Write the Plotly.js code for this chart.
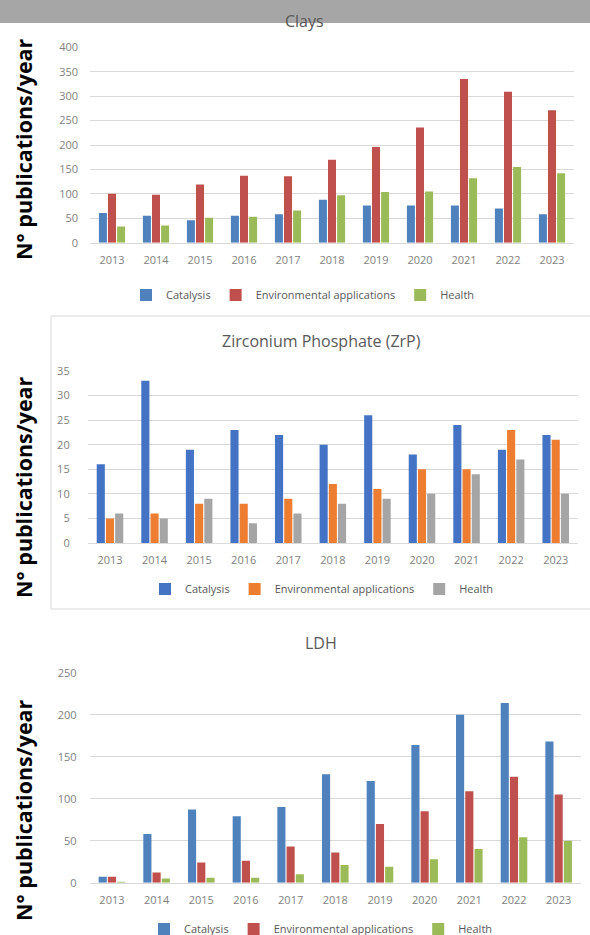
<!DOCTYPE html>
<html><head><meta charset="utf-8">
<script src="https://cdn.plot.ly/plotly-3.0.1.min.js"></script>
<style>html,body{margin:0;padding:0;background:#fff;overflow:hidden}#chart{width:590px;height:935px}</style>
</head><body><div id="chart"></div>
<script>
// ---- data ----
const years = ['2013','2014','2015','2016','2017','2018','2019','2020','2021','2022','2023'];
const seriesNames = ['Catalysis','Environmental applications','Health'];
const panelTitles = ['Clays','Zirconium Phosphate (ZrP)','LDH'];
const yAxisTitle = 'N° publications/year';

const claysCatalysis = [61, 55, 46, 55, 58, 88, 76, 76, 76, 70, 58];
const claysEnvironmental = [100, 98, 119, 137, 136, 170, 196, 236, 335, 309, 271];
const claysHealth = [33, 35, 51, 53, 66, 97, 104, 105, 132, 155, 142];

const zrpCatalysis = [16, 33, 19, 23, 22, 20, 26, 18, 24, 19, 22];
const zrpEnvironmental = [5, 6, 8, 8, 9, 12, 11, 15, 15, 23, 21];
const zrpHealth = [6, 5, 9, 4, 6, 8, 9, 10, 14, 17, 10];

const ldhCatalysis = [7, 58, 87, 79, 90, 129, 121, 164, 200, 214, 168];
const ldhEnvironmental = [7, 12, 24, 26, 43, 36, 70, 85, 109, 126, 105];
const ldhHealth = [1, 5, 6, 6, 10, 21, 19, 28, 40, 54, 50];

// ---- styles ----
const W = 590, H = 935;
const px = v => v / W;
const py = v => 1 - v / H;
const FONT = 'Open Sans, Noto Sans, sans-serif';
const colorsA = ['#4F81BD', '#C0504D', '#9BBB59'];
const colorsB = ['#4472C4', '#ED7D31', '#A5A5A5'];

const panels = [
  {data: [claysCatalysis, claysEnvironmental, claysHealth], colors: colorsA, xa: 'x', ya: 'y', lg: 'legend'},
  {data: [zrpCatalysis, zrpEnvironmental, zrpHealth], colors: colorsB, xa: 'x2', ya: 'y2', lg: 'legend2'},
  {data: [ldhCatalysis, ldhEnvironmental, ldhHealth], colors: colorsA, xa: 'x3', ya: 'y3', lg: 'legend3'}
];

const traces = [];
panels.forEach(p => {
  p.data.forEach((vals, i) => {
    traces.push({
      type: 'bar', x: years, y: vals, name: seriesNames[i],
      xaxis: p.xa, yaxis: p.ya, legend: p.lg,
      marker: {color: p.colors[i], line: {width: 0}},
      hoverinfo: 'x+y+name'
    });
  });
});

const tickFont = {family: FONT, size: 11, color: '#7f7f7f'};
function xAx(domain, anchor) {
  return {domain: domain, anchor: anchor, type: 'category', showgrid: false, showline: true,
    linecolor: '#d9d9d9', linewidth: 1, ticks: '', tickfont: tickFont, ticklabelstandoff: 7, fixedrange: true};
}
function yAx(domain, anchor, range, dtick, standoff) {
  return {domain: domain, anchor: anchor, range: range, dtick: dtick, tick0: 0, showgrid: true,
    gridcolor: '#d9d9d9', gridwidth: 1, zeroline: false, showline: false, ticks: '',
    tickfont: tickFont, ticklabelstandoff: standoff, fixedrange: true};
}
function legendAt(xc, yc) {
  return {orientation: 'h', x: px(xc), y: py(yc), xanchor: 'center', yanchor: 'middle',
    font: {family: FONT, size: 11, color: '#595959'}, bgcolor: 'rgba(0,0,0,0)', itemwidth: 30, traceorder: 'normal'};
}
function titleAnn(text, xc, yc) {
  return {text: text, x: px(xc), y: py(yc), xref: 'paper', yref: 'paper', showarrow: false,
    xanchor: 'center', yanchor: 'middle', font: {family: FONT, size: 16, color: '#595959'}};
}
function yTitleAnn(yc) {
  return {text: '<b>' + yAxisTitle + '</b>', x: px(23), y: py(yc), xref: 'paper', yref: 'paper', showarrow: false,
    textangle: -90, xanchor: 'center', yanchor: 'middle', font: {family: FONT, size: 21.5, color: '#000000'}};
}

const layout = {
  width: W, height: H, autosize: false,
  margin: {l: 0, r: 0, t: 0, b: 0, autoexpand: false},
  paper_bgcolor: '#ffffff', plot_bgcolor: 'rgba(0,0,0,0)',
  barmode: 'group', bargap: 0.38, bargroupgap: 0.12,
  showlegend: true,
  xaxis: xAx([px(90), px(574)], 'y'),
  yaxis: yAx([py(242.7), py(47.3)], 'x', [0, 400], 50, 11),
  xaxis2: xAx([px(87.7), px(578)], 'y2'),
  yaxis2: yAx([py(543), py(371)], 'x2', [0, 35], 5, 17),
  xaxis3: xAx([px(89.6), px(581)], 'y3'),
  yaxis3: yAx([py(882.7), py(672.7)], 'x3', [0, 250], 50, 12),
  legend: legendAt(303, 295),
  legend2: legendAt(322, 589),
  legend3: legendAt(321, 929),
  shapes: [
    {type: 'rect', xref: 'paper', yref: 'paper', x0: -0.01, x1: 1.01, y0: py(23), y1: 1.01,
      fillcolor: '#a6a6a6', line: {width: 0}, layer: 'below'},
    {type: 'rect', xref: 'paper', yref: 'paper', x0: px(51), x1: 1.01, y0: py(609), y1: py(316),
      fillcolor: 'rgba(0,0,0,0)', line: {color: '#d9d9d9', width: 1}, layer: 'below'}
  ],
  annotations: [
    titleAnn(panelTitles[0], 304, 21),
    titleAnn(panelTitles[1], 322, 341),
    titleAnn(panelTitles[2], 321, 643),
    yTitleAnn(149),
    yTitleAnn(487),
    yTitleAnn(810)
  ]
};

Plotly.newPlot('chart', traces, layout, {displayModeBar: false, staticPlot: true});
</script>
</body></html>
